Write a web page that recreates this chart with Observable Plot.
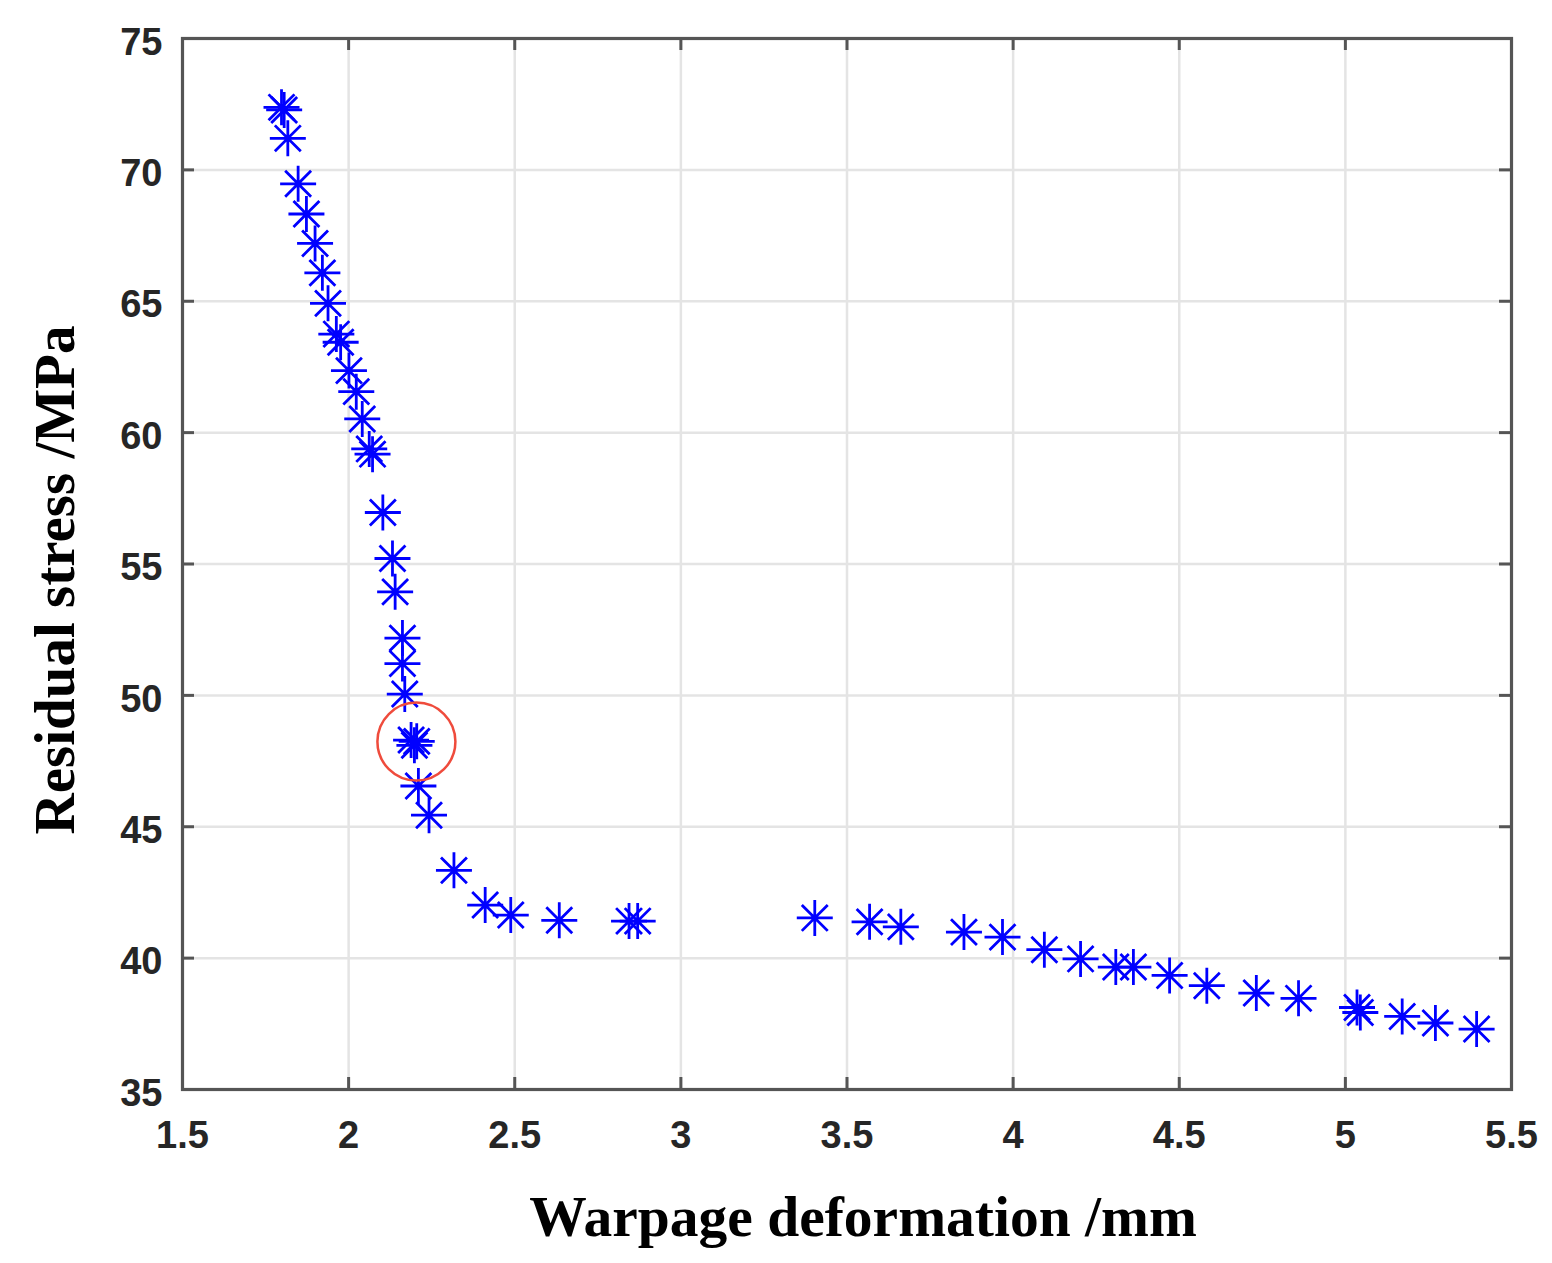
<!DOCTYPE html>
<html>
<head>
<meta charset="utf-8">
<script src="https://cdn.jsdelivr.net/npm/d3@7"></script>
<script src="https://cdn.jsdelivr.net/npm/@observablehq/plot@0.6"></script>
<style>
  html, body { margin: 0; padding: 0; background: #fff; }
</style>
</head>
<body>
<script>
// ---- data ----
const warpage = [1.798, 1.806, 1.817, 1.848, 1.873, 1.899, 1.921, 1.938, 1.963, 1.976, 2.001, 2.023, 2.041, 2.062, 2.072,
  2.103, 2.132, 2.140, 2.162, 2.162, 2.169, 2.188, 2.198, 2.205, 2.210, 2.242, 2.317, 2.411, 2.488, 2.634, 2.844, 2.870,
  3.403, 3.568, 3.662, 3.852, 3.968, 4.094, 4.203, 4.309, 4.362, 4.471, 4.583, 4.732, 4.859, 5.035, 5.045, 5.171, 5.271, 5.395];
const stress = [72.38, 72.28, 71.20, 69.47, 68.32, 67.20, 66.08, 64.92, 63.75, 63.44, 62.36, 61.56, 60.52, 59.38, 59.18,
  56.96, 55.21, 53.94, 52.18, 51.21, 50.05, 48.30, 48.10, 48.25, 46.55, 45.44, 43.34, 42.02, 41.64, 41.44, 41.41, 41.41,
  41.53, 41.38, 41.19, 40.99, 40.80, 40.32, 39.97, 39.66, 39.66, 39.34, 38.95, 38.67, 38.47, 38.12, 37.93, 37.78, 37.53, 37.30];
const highlightX = [2.204];
const highlightY = [48.24];
const xTicks = [1.5, 2, 2.5, 3, 3.5, 4, 4.5, 5, 5.5];
const yTicks = [35, 40, 45, 50, 55, 60, 65, 70, 75];
const xTitle = "Warpage deformation /mm";
const yTitle = "Residual stress /MPa";

const points = warpage.map((x, i) => ({x, y: stress[i]}));
const highlight = highlightX.map((x, i) => ({x, y: highlightY[i]}));

// MATLAB-style '*' marker (plus + diagonal cross)
const asterisk = {
  draw(ctx, size) {
    const r = Math.sqrt(size / Math.PI);
    const d = r * 0.72;
    ctx.moveTo(-r, 0); ctx.lineTo(r, 0);
    ctx.moveTo(0, -r); ctx.lineTo(0, r);
    ctx.moveTo(-d, -d); ctx.lineTo(d, d);
    ctx.moveTo(-d, d); ctx.lineTo(d, -d);
  }
};

const W = 1552, H = 1263;
const mL = 182, mR = 41, mT = 38, mB = 174;
const plotW = W - mL - mR, plotH = H - mT - mB;
const tickLen = 12;
const frameColor = "#555555";
const tickFont = "'Liberation Sans', Arial, Helvetica, sans-serif";
const titleFont = "'Liberation Serif', 'Times New Roman', serif";

const chart = Plot.plot({
  width: W,
  height: H,
  marginLeft: mL,
  marginRight: mR,
  marginTop: mT,
  marginBottom: mB,
  style: {background: "#fff", overflow: "visible"},
  x: {domain: [1.5, 5.5]},
  y: {domain: [35, 75]},
  marks: [
    Plot.gridX(xTicks, {stroke: "#e4e4e4", strokeOpacity: 1, strokeWidth: 2.5}),
    Plot.gridY(yTicks, {stroke: "#e4e4e4", strokeOpacity: 1, strokeWidth: 2.5}),
    // inward ticks on all four sides
    Plot.tickX(xTicks, {x: d => d, insetTop: plotH - tickLen, stroke: frameColor, strokeWidth: 3}),
    Plot.tickX(xTicks, {x: d => d, insetBottom: plotH - tickLen, stroke: frameColor, strokeWidth: 3}),
    Plot.tickY(yTicks, {y: d => d, insetRight: plotW - tickLen, stroke: frameColor, strokeWidth: 3}),
    Plot.tickY(yTicks, {y: d => d, insetLeft: plotW - tickLen, stroke: frameColor, strokeWidth: 3}),
    Plot.axisX(xTicks, {
      tickSize: 0, tickPadding: 32, label: null,
      tickFormat: d => String(d),
      fontSize: 38, fontWeight: "bold", fontFamily: tickFont, fill: "#262626"
    }),
    Plot.axisY(yTicks, {
      tickSize: 0, tickPadding: 20, label: null, dy: 4,
      tickFormat: d => String(d),
      fontSize: 38, fontWeight: "bold", fontFamily: tickFont, fill: "#262626"
    }),
    Plot.frame({stroke: frameColor, strokeWidth: 3.2}),
    Plot.dot(points, {
      x: "x", y: "y", r: 18, symbol: asterisk,
      fill: "none", stroke: "#0000ff", strokeWidth: 2.8
    }),
    Plot.dot(highlight, {
      x: "x", y: "y", r: 39,
      fill: "none", stroke: "#ef4b3c", strokeWidth: 2.5
    }),
    Plot.text([xTitle], {
      frameAnchor: "bottom", dx: 16, dy: 146, text: d => d, textAnchor: "middle",
      fontSize: 57.5, fontWeight: "bold", fontFamily: titleFont, fill: "#000"
    }),
    Plot.text([yTitle], {
      frameAnchor: "left", dx: -127, dy: 16, rotate: -90, text: d => d, textAnchor: "middle",
      fontSize: 57, fontWeight: "bold", fontFamily: titleFont, fill: "#000"
    })
  ]
});

document.body.appendChild(chart);
</script>
</body>
</html>
